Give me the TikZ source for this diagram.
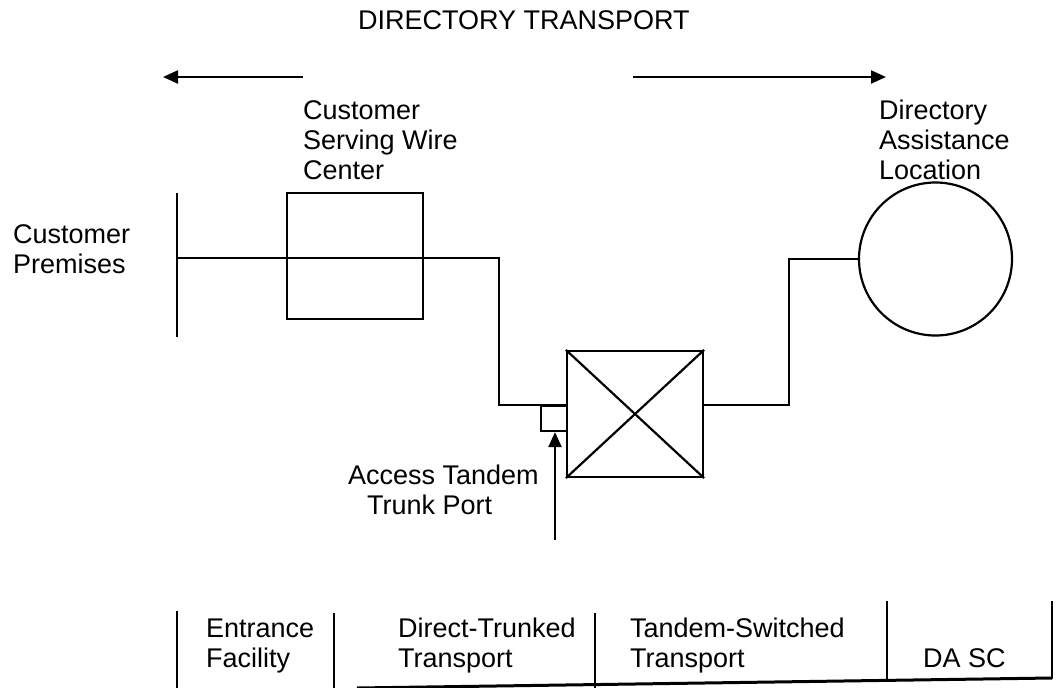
\documentclass[tikz,border=0pt]{standalone}
\usepackage{fontspec}
\setmainfont{Liberation Sans}
\usetikzlibrary{arrows.meta}
\begin{document}
\begin{tikzpicture}[x=1pt,y=-1pt,
  every path/.style={line width=2.2pt},
  lbl/.style={anchor=base west,inner sep=0pt,align=left,font=\fontsize{27}{30}\selectfont},
  boxn/.style={draw,line width=2.2pt,inner sep=0pt},
  arr/.style={-{Triangle[length=15pt,width=13pt]}}]
\useasboundingbox (0,0) rectangle (1058,688);
% title and direction arrows
\node[lbl] (title) at (357,29) {DIRECTORY TRANSPORT};
\coordinate (la1) at (303,77); \coordinate (la2) at (163,77);
\coordinate (ra1) at (633,77); \coordinate (ra2) at (886,77);
\draw[arr] (la1) -- (la2);
\draw[arr] (ra1) -- (ra2);
% labels (anchor = baseline of the last line)
\node[lbl] (cp) at (12,273) {Customer\\Premises};
\node[lbl] (cswcl) at (302,179) {Customer\\Serving Wire\\Center};
\node[lbl] (dall) at (878,179) {Directory\\Assistance\\Location};
\node[lbl] (atp) at (347,514) {Access Tandem\\\hspace*{19pt}Trunk Port};
% shapes
\node[boxn,minimum width=136pt,minimum height=126pt] (cswc) at (355,256) {};
\node[boxn,minimum width=136pt,minimum height=126pt] (sw) at (635,414) {};
\node[boxn,minimum width=26pt,minimum height=25pt] (port) at (554,418.5) {};
\node[draw,circle,line width=2.2pt,minimum size=153pt,inner sep=0pt] (da) at (935.5,259) {};
\draw (sw.north west) -- (sw.south east);
\draw (sw.north east) -- (sw.south west);
% customer premises line
\coordinate (cpt) at (177,193); \coordinate (cpb) at (177,337);
\coordinate (cpm) at (177,258); \coordinate (t1) at (499,258);
\coordinate (t3) at (789,330);
\draw (cpt) -- (cpb);
\draw (cpm) -- (t1) |- (port.north east);
\draw (sw.east |- port.north) -| (t3) |- (da.west);
% trunk port arrow
\coordinate (ab) at (555,540);
\draw[arr] (ab) -- (ab |- port.south);
% bottom table
\coordinate (v1t) at (177,611); \coordinate (v1b) at (177,688);
\coordinate (v2t) at (334,613); \coordinate (v2b) at (334,688);
\coordinate (v3t) at (595,613); \coordinate (v3b) at (595,688);
\coordinate (v4t) at (887,601); \coordinate (v4b) at (887,679);
\coordinate (v5t) at (1052,601); \coordinate (v5b) at (1052,679);
\draw (v1t) -- (v1b);
\draw (v2t) -- (v2b);
\draw (v3t) -- (v3b);
\draw (v4t) -- (v4b);
\draw (v5t) -- (v5b);
\coordinate (s1) at (357,688); \coordinate (s2) at (1052,678);
\draw[line width=3pt] (s1) -- (s2);
\node[lbl] (ef) at (205,667) {Entrance\\Facility};
\node[lbl] (dtt) at (397,667) {Direct-Trunked\\Transport};
\node[lbl] (tst) at (629,667) {Tandem-Switched\\Transport};
\node[lbl] (dasc) at (922,667) {DA SC};
\end{tikzpicture}
\end{document}
